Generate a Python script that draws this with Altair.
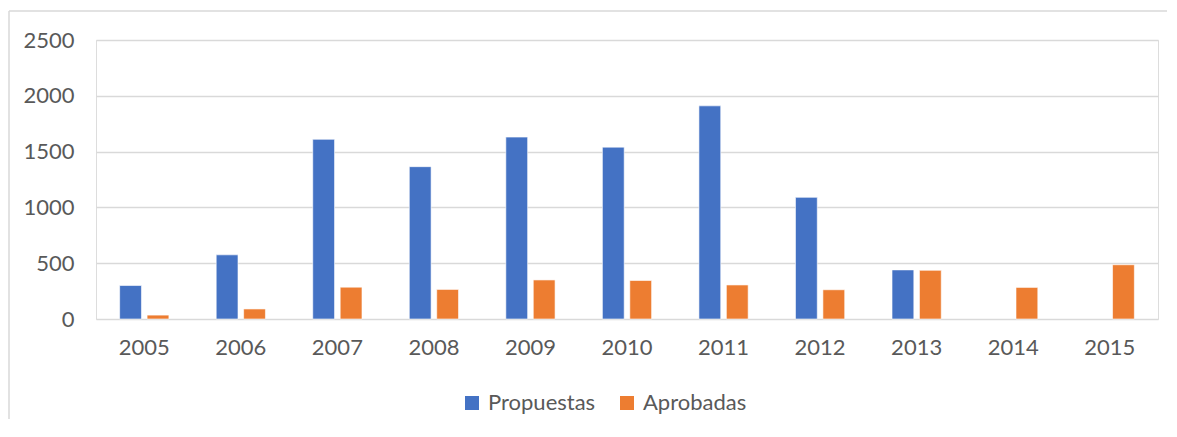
import altair as alt
import pandas as pd

years = ["2005", "2006", "2007", "2008", "2009", "2010", "2011", "2012", "2013", "2014", "2015"]
propuestas = [300, 575, 1610, 1365, 1630, 1540, 1910, 1090, 440, None, None]
aprobadas = [35, 90, 285, 265, 350, 345, 305, 262, 436, 283, 486]
series = ["Propuestas", "Aprobadas"]
colors = ["#4472C4", "#ED7D31"]

rows = []
for y, p, a in zip(years, propuestas, aprobadas):
    rows.append({"year": y, "serie": "Propuestas", "value": p})
    rows.append({"year": y, "serie": "Aprobadas", "value": a})
df = pd.DataFrame(rows)

FONT = "Lato"
TXT = "#595959"

bars = alt.Chart(df).mark_bar(stroke="white", strokeWidth=0.6).encode(
    x=alt.X("year:N", title=None, sort=years,
            scale=alt.Scale(paddingInner=0.49, paddingOuter=0.245),
            axis=alt.Axis(labelAngle=0, domain=False, ticks=False, labelPadding=18,
                          labelFont=FONT, labelFontSize=22, labelColor=TXT, grid=False)),
    xOffset=alt.XOffset("serie:N", sort=series,
                        scale=alt.Scale(domain=series, paddingInner=0.205, paddingOuter=0)),
    y=alt.Y("value:Q", title=None,
            scale=alt.Scale(domain=[0, 2500], nice=False),
            axis=alt.Axis(values=[0, 500, 1000, 1500, 2000, 2500], format="d",
                          domain=False, ticks=False,
                          labelPadding=22, labelFont=FONT, labelFontSize=22, labelColor=TXT,
                          gridColor="#d9d9d9", gridWidth=1.5)),
    color=alt.Color("serie:N", sort=series,
                    scale=alt.Scale(domain=series, range=colors),
                    legend=alt.Legend(title=None, orient="none", direction="horizontal",
                                      legendX=365, legendY=352, symbolType="square",
                                      symbolSize=196, symbolStrokeWidth=0, labelFont=FONT,
                                      labelFontSize=22, labelColor=TXT, labelOffset=5,
                                      columnPadding=20)),
)

edge = alt.Chart(alt.Data(values=[{}]))
frame_left = edge.mark_rule(stroke="#d9d9d9", strokeWidth=1.5).encode(
    x=alt.value(-87), y=alt.value(-29), y2=alt.value(420)
)
frame_top = edge.mark_rule(stroke="#d9d9d9", strokeWidth=1.5).encode(
    x=alt.value(-87), x2=alt.value(1071), y=alt.value(-29)
)

chart = alt.layer(frame_left, frame_top, bars).properties(
    width=1062, height=279,
    autosize=alt.AutoSizeParams(type="none"),
    padding={"left": 88, "top": 32, "right": 10, "bottom": 100},
).configure_view(strokeWidth=0, stroke="transparent").configure(background="transparent")

chart.save("out.html", embed_options={"renderer": "svg", "actions": False})
